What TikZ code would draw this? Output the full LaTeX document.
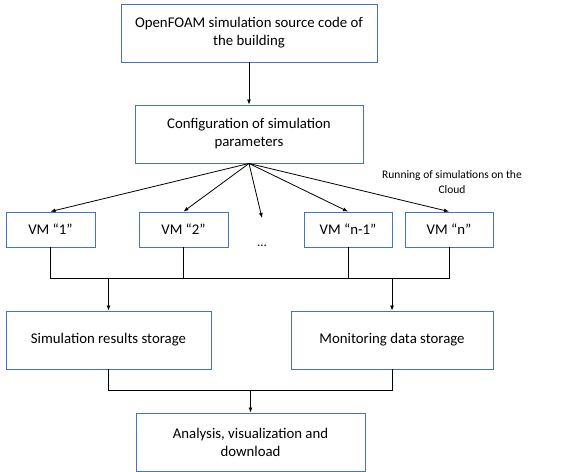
\documentclass[tikz,border=0pt]{standalone}
\usepackage{fontspec}
\setmainfont{Carlito}
\usepackage{tikz}
\usetikzlibrary{positioning,arrows.meta}
\definecolor{boxblue}{RGB}{68,114,196}

\begin{document}
\begin{tikzpicture}[x=1pt,y=-1pt,
box/.style={draw=boxblue,line width=0.9pt,rectangle,align=center,
    font=\fontsize{14.8}{18}\selectfont,inner sep=2pt},
link/.style={draw,line width=0.8pt},
arr/.style={link,-{Latex[length=5pt,width=4pt]}}]
\useasboundingbox (0,0) rectangle (582,472);
% top part
\node (src) [box,minimum width=256pt,minimum height=58pt] at (249,33)
    {OpenFOAM simulation source code of\\ the building};
\node (conf) [box,minimum width=228pt,minimum height=58pt] at (249,134)
    {Configuration of simulation\\ parameters};
% virtual machines
\node (vma) [box,minimum width=89pt,minimum height=35pt] at (50.5,229.5) {VM “1”};
\node (vmb) [box,minimum width=89pt,minimum height=35pt] at (183.5,229.5) {VM “2”};
\node (vmm) [box,minimum width=88pt,minimum height=35pt] at (348,229.5) {VM “n-1”};
\node (vmn) [box,minimum width=88pt,minimum height=35pt] at (449,229.5) {VM “n”};
\node (dots) [font=\fontsize{13}{16}\selectfont] at (262,246) {...};
\coordinate (dotsend) at (262,218);
\node (cloud) [align=center,font=\fontsize{11.5}{14.5}\selectfont] at (452,182)
    {Running of simulations on the\\ Cloud};
% storage and output
\node (simst) [box,minimum width=205pt,minimum height=58pt] at (108.5,340)
    {Simulation results storage};
\node (monst) [box,minimum width=202pt,minimum height=58pt] at (392,340)
    {Monitoring data storage};
\node (anal) [box,minimum width=229pt,minimum height=58pt] at (250.5,442)
    {Analysis, visualization and\\ download};
\coordinate (busl) at (50,278);
\coordinate (busr) at (449,278);
\coordinate (outl) at (108,390);
\coordinate (outr) at (392,390);

\draw [arr] (src) -- (conf);
\foreach \vm in {vma,vmb,vmm,vmn}
    \draw [arr] (conf.south) -- (\vm.north);
\draw [arr] (conf.south) -- (dotsend);
\draw [link] (vma.south) |- (busr) -- (vmn.south);
\draw [link] (vmb.south) -- (vmb.south |- busl);
\draw [link] (vmm.south) -- (vmm.south |- busl);
\draw [arr] (simst.north |- busl) -- (simst.north);
\draw [arr] (monst.north |- busl) -- (monst.north);
\draw [link] (simst.south) |- (outr) -- (monst.south);
\draw [arr] (anal.north |- outl) -- (anal.north);
\end{tikzpicture}
\end{document}
